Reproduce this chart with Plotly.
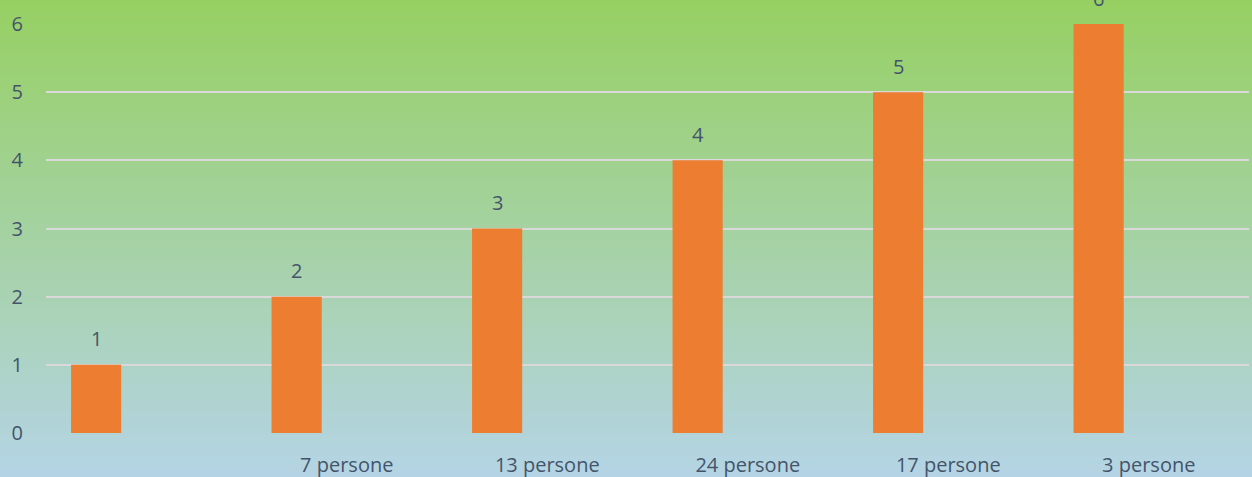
import plotly.graph_objects as go

categories = ["", "7 persone", "13 persone", "24 persone", "17 persone", "3 persone"]
values = [1, 2, 3, 4, 5, 6]
y_ticks = [0, 1, 2, 3, 4, 5, 6]

W, H = 1252, 477
ML, MR, MT, MB = 46, 3, 24, 44
FS = 20
TXT = "#44546A"

fig = go.Figure()
fig.add_trace(go.Bar(
    x=list(range(len(categories))), y=values,
    width=0.25, offset=-0.375,
    marker=dict(color="#ED7D31", line=dict(width=0)),
    hoverinfo="skip",
))

# data labels
for i, v in enumerate(values):
    fig.add_annotation(x=i - 0.25, y=v, text=str(v), showarrow=False,
                       yshift=26, font=dict(size=FS, color=TXT, family="Open Sans"))

# vertical gradient background
top = (150, 208, 96)
bot = (181, 212, 232)
n = 120
ph = H - MT - MB
y0p = -MB / ph - 0.03
y1p = 1 + MT / ph + 0.02
shapes = []
for k in range(n):
    t = k / (n - 1)
    c = tuple(int(round(top[j] + (bot[j] - top[j]) * t)) for j in range(3))
    ya = y1p - (y1p - y0p) * k / n
    yb = y1p - (y1p - y0p) * (k + 1) / n
    shapes.append(dict(type="rect", xref="paper", yref="paper",
                       x0=-ML / (W - ML - MR) - 0.01, x1=1.01,
                       y0=yb - 0.002, y1=ya + 0.002,
                       fillcolor="rgb(%d,%d,%d)" % c, line=dict(width=0),
                       layer="below"))

fig.update_layout(
    width=W, height=H,
    margin=dict(l=ML, r=MR, t=MT, b=MB),
    paper_bgcolor="rgb(181,212,232)", plot_bgcolor="rgba(0,0,0,0)",
    shapes=shapes,
    showlegend=False,
    font=dict(family="Open Sans", size=FS, color=TXT),
    xaxis=dict(
        tickmode="array", tickvals=list(range(len(categories))), ticktext=categories,
        range=[-0.5, len(categories) - 0.5], automargin=False,
        showgrid=False, zeroline=False, showline=False,
        ticks="outside", ticklen=14, tickcolor="rgba(0,0,0,0)",
        tickfont=dict(size=FS, color=TXT),
    ),
    yaxis=dict(
        range=[0, 6], tickvals=y_ticks, automargin=False,
        showgrid=True, gridcolor="#D9D9D9", gridwidth=2,
        zeroline=False, showline=False,
        ticks="outside", ticklen=18, tickcolor="rgba(0,0,0,0)",
        tickfont=dict(size=FS, color=TXT),
    ),
)

fig.write_html(
    "out.html",
    config={"displayModeBar": False, "responsive": False},
    post_script=(
        "document.documentElement.style.margin='0';"
        "document.documentElement.style.overflow='hidden';"
        "document.body.style.margin='0';document.body.style.padding='0';"
        "document.body.style.overflow='hidden';"
        "document.body.style.background='rgb(181,212,232)';"
        "window.scrollTo(0,0);"
    ),
)
